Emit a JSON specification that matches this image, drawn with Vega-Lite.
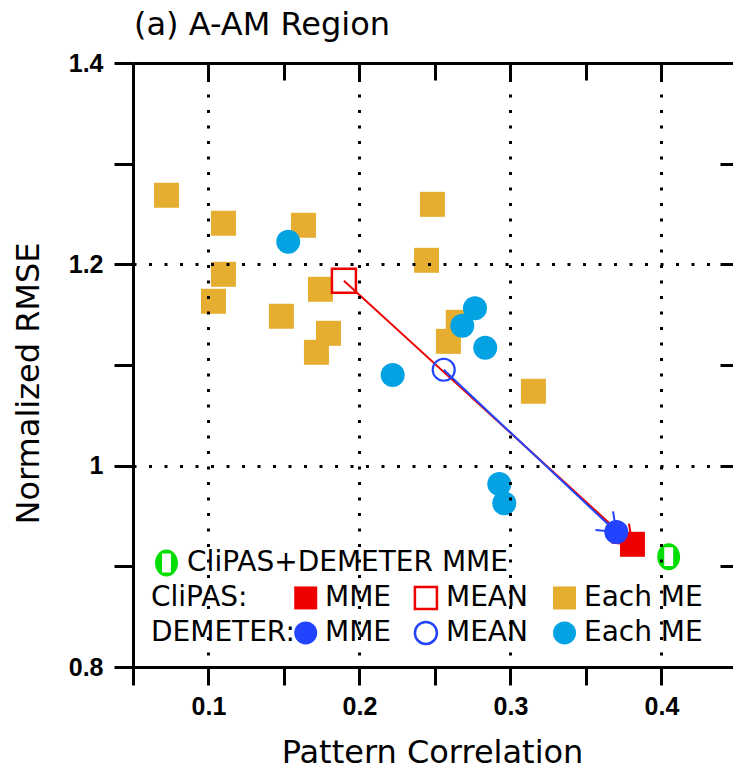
{
  "$schema": "https://vega.github.io/schema/vega-lite/v6.json",
  "width": 600,
  "height": 604,
  "autosize": {"type": "none"},
  "padding": {"left": 133, "top": 63, "right": 0, "bottom": 104},
  "background": "white",
  "title": {"text": "(a) A-AM Region", "anchor": "start", "frame": "group", "font": "DejaVu Sans", "fontSize": 32, "fontWeight": "normal", "color": "black", "offset": 9, "dx": 1},
  "config": {"view": {"stroke": null}},
  "datasets": {
    "points": [
      {"series": "CliPAS", "kind": "Each ME", "pc": 0.0722, "rmse": 1.2686},
      {"series": "CliPAS", "kind": "Each ME", "pc": 0.1099, "rmse": 1.2408},
      {"series": "CliPAS", "kind": "Each ME", "pc": 0.1629, "rmse": 1.2388},
      {"series": "CliPAS", "kind": "Each ME", "pc": 0.2483, "rmse": 1.2596},
      {"series": "CliPAS", "kind": "Each ME", "pc": 0.2444, "rmse": 1.204},
      {"series": "CliPAS", "kind": "Each ME", "pc": 0.1099, "rmse": 1.1901},
      {"series": "CliPAS", "kind": "Each ME", "pc": 0.1033, "rmse": 1.1633},
      {"series": "CliPAS", "kind": "Each ME", "pc": 0.1483, "rmse": 1.1484},
      {"series": "CliPAS", "kind": "Each ME", "pc": 0.1742, "rmse": 1.1752},
      {"series": "CliPAS", "kind": "Each ME", "pc": 0.1795, "rmse": 1.1315},
      {"series": "CliPAS", "kind": "Each ME", "pc": 0.1715, "rmse": 1.1126},
      {"series": "CliPAS", "kind": "Each ME", "pc": 0.2654, "rmse": 1.1424},
      {"series": "CliPAS", "kind": "Each ME", "pc": 0.2589, "rmse": 1.1235},
      {"series": "CliPAS", "kind": "Each ME", "pc": 0.3152, "rmse": 1.0739},
      {"series": "DEMETER", "kind": "Each ME", "pc": 0.1528, "rmse": 1.2225},
      {"series": "DEMETER", "kind": "Each ME", "pc": 0.2765, "rmse": 1.1563},
      {"series": "DEMETER", "kind": "Each ME", "pc": 0.2681, "rmse": 1.139},
      {"series": "DEMETER", "kind": "Each ME", "pc": 0.2833, "rmse": 1.1172},
      {"series": "DEMETER", "kind": "Each ME", "pc": 0.222, "rmse": 1.0901},
      {"series": "DEMETER", "kind": "Each ME", "pc": 0.2926, "rmse": 0.9818},
      {"series": "DEMETER", "kind": "Each ME", "pc": 0.2959, "rmse": 0.9626},
      {"series": "CliPAS", "kind": "MEAN", "pc": 0.1897, "rmse": 1.1836},
      {"series": "DEMETER", "kind": "MEAN", "pc": 0.2558, "rmse": 1.0953},
      {"series": "DEMETER", "kind": "MME", "pc": 0.3701, "rmse": 0.9341},
      {"series": "CliPAS", "kind": "MME", "pc": 0.3808, "rmse": 0.9219},
      {"series": "CliPAS+DEMETER", "kind": "MME", "pc": 0.4048, "rmse": 0.9096}
    ],
    "legendSymbols": [
      {"series": "CliPAS+DEMETER", "kind": "MME", "lx": 0.0722, "ly": 0.9033},
      {"series": "CliPAS", "kind": "MME", "lx": 0.1644, "ly": 0.8686},
      {"series": "CliPAS", "kind": "MEAN", "lx": 0.244, "ly": 0.8686},
      {"series": "CliPAS", "kind": "Each ME", "lx": 0.3358, "ly": 0.8686},
      {"series": "DEMETER", "kind": "MME", "lx": 0.1644, "ly": 0.8338},
      {"series": "DEMETER", "kind": "MEAN", "lx": 0.244, "ly": 0.8338},
      {"series": "DEMETER", "kind": "Each ME", "lx": 0.3358, "ly": 0.8338}
    ],
    "legendTexts": [
      {"label": "CliPAS+DEMETER MME", "lx": 0.0858, "ly": 0.9033},
      {"label": "CliPAS:", "lx": 0.0619, "ly": 0.8686},
      {"label": "MME", "lx": 0.1772, "ly": 0.8686},
      {"label": "MEAN", "lx": 0.2573, "ly": 0.8686},
      {"label": "Each ME", "lx": 0.3487, "ly": 0.8686},
      {"label": "DEMETER:", "lx": 0.0619, "ly": 0.8338},
      {"label": "MME", "lx": 0.1772, "ly": 0.8338},
      {"label": "MEAN", "lx": 0.2573, "ly": 0.8338},
      {"label": "Each ME", "lx": 0.3487, "ly": 0.8338}
    ]
  },
  "resolve": {"axis": {"x": "independent", "y": "independent"}},
  "layer": [
    {
      "data": {"name": "points"},
      "transform": [{"filter": "datum.series === 'CliPAS' && datum.kind === 'Each ME'"}],
      "mark": {"type": "point", "shape": "square", "filled": true, "color": "#E5AE30", "size": 625, "opacity": 1, "strokeWidth": 0},
      "encoding": {
        "x": {"field": "pc", "type": "quantitative", "scale": {"domain": [0.05, 0.4474], "nice": false, "zero": false},
          "axis": {"orient": "bottom", "values": [0.05, 0.1, 0.15, 0.2, 0.25, 0.3, 0.35, 0.4],
            "title": "Pattern Correlation", "titleFont": "DejaVu Sans", "titleFontSize": 32, "titleFontWeight": "normal", "titleColor": "black",
            "titleX": 299, "titleY": 95, "titleBaseline": "alphabetic", "titleAlign": "center",
            "labelExpr": "(round(datum.value*100) % 10 == 0) ? format(datum.value, '.1f') : ''",
            "labelFont": "Liberation Sans", "labelFontSize": 25, "labelFontWeight": "bold", "labelColor": "black", "labelPadding": 9, "labelFlush": false, "labelOverlap": false,
            "tickSize": 18, "tickWidth": 3, "tickColor": "black", "domainWidth": 3, "domainColor": "black",
            "grid": true, "gridColor": "black", "gridWidth": 3, "gridDash": [3, 12.5],
            "gridOpacity": {"condition": {"test": "round(datum.value*100) % 10 == 0", "value": 1}, "value": 0},
            "zindex": 1}},
        "y": {"field": "rmse", "type": "quantitative", "scale": {"domain": [0.8, 1.4], "nice": false, "zero": false},
          "axis": {"orient": "left", "values": [0.8, 0.9, 1.0, 1.1, 1.2, 1.3, 1.4],
            "title": "Normalized RMSE", "titleFont": "DejaVu Sans", "titleFontSize": 32, "titleFontWeight": "normal", "titleColor": "black",
            "titleX": -95, "titleY": 320, "titleAngle": 270, "titleBaseline": "alphabetic", "titleAlign": "center",
            "labelExpr": "(round(datum.value*10) % 2 == 0) ? format(datum.value, '~g') : ''",
            "labelFont": "Liberation Sans", "labelFontSize": 25, "labelFontWeight": "bold", "labelColor": "black", "labelPadding": 11, "labelFlush": false, "labelOverlap": false,
            "tickSize": 19, "tickWidth": 3, "tickColor": "black", "domainWidth": 3, "domainColor": "black",
            "grid": true, "gridColor": "black", "gridWidth": 3, "gridDash": [3, 12.5],
            "gridOpacity": {"condition": {"test": "abs(datum.value - 1) < 0.01 || abs(datum.value - 1.2) < 0.01", "value": 1}, "value": 0},
            "zindex": 1}}
      }
    },
    {
      "data": {"name": "points"},
      "transform": [{"filter": "datum.series === 'DEMETER' && datum.kind === 'Each ME'"}],
      "mark": {"type": "circle", "color": "#03A3E3", "size": 576, "opacity": 1},
      "encoding": {
        "x": {"field": "pc", "type": "quantitative", "scale": {"domain": [0.05, 0.4474], "nice": false, "zero": false},
          "axis": {"orient": "top", "values": [0.05, 0.1, 0.15, 0.2, 0.25, 0.3, 0.35, 0.4], "labels": false, "title": null,
            "tickSize": -17, "tickWidth": 3, "tickColor": "black", "domainWidth": 3, "domainColor": "black", "grid": false, "zindex": 1}},
        "y": {"field": "rmse", "type": "quantitative", "scale": {"domain": [0.8, 1.4], "nice": false, "zero": false},
          "axis": {"orient": "right", "values": [0.9, 1.0, 1.1, 1.2, 1.3], "labels": false, "title": null,
            "tickSize": -13, "tickWidth": 3, "tickColor": "black", "domain": false, "grid": false, "zindex": 1}}
      }
    },
    {
      "data": {"name": "points"},
      "transform": [{"filter": "datum.series === 'CliPAS' && (datum.kind === 'MEAN' || datum.kind === 'MME')"}],
      "mark": {"type": "line", "color": "#EE0000", "strokeWidth": 2},
      "encoding": {
        "x": {"field": "pc", "type": "quantitative", "scale": {"domain": [0.05, 0.4474], "nice": false, "zero": false}, "axis": null},
        "y": {"field": "rmse", "type": "quantitative", "scale": {"domain": [0.8, 1.4], "nice": false, "zero": false}, "axis": null}
      }
    },
    {
      "data": {"name": "points"},
      "transform": [{"filter": "datum.series === 'DEMETER' && (datum.kind === 'MEAN' || datum.kind === 'MME')"}],
      "mark": {"type": "line", "color": "#2244FF", "strokeWidth": 2},
      "encoding": {
        "x": {"field": "pc", "type": "quantitative", "scale": {"domain": [0.05, 0.4474], "nice": false, "zero": false}, "axis": null},
        "y": {"field": "rmse", "type": "quantitative", "scale": {"domain": [0.8, 1.4], "nice": false, "zero": false}, "axis": null}
      }
    },
    {
      "data": {"name": "points"},
      "transform": [{"filter": "datum.kind === 'MME' && datum.series !== 'CliPAS+DEMETER'"}],
      "mark": {"type": "point", "shape": "M-1,-0.78L0,0L-1,0.78", "filled": false, "size": 1089, "strokeWidth": 2, "opacity": 1},
      "encoding": {
        "x": {"field": "pc", "type": "quantitative", "scale": {"domain": [0.05, 0.4474], "nice": false, "zero": false}, "axis": null},
        "y": {"field": "rmse", "type": "quantitative", "scale": {"domain": [0.8, 1.4], "nice": false, "zero": false}, "axis": null},
        "color": {"condition": {"test": "datum.series === 'CliPAS'", "value": "#EE0000"}, "value": "#2244FF"},
        "angle": {"condition": {"test": "datum.series === 'CliPAS'", "value": 42.4}, "value": 43.2}
      }
    },
    {
      "data": {"name": "points"},
      "transform": [{"filter": "datum.series === 'CliPAS' && datum.kind === 'MEAN'"}],
      "mark": {"type": "point", "shape": "square", "filled": false, "color": "#EE0000", "size": 576, "strokeWidth": 2.5, "opacity": 1},
      "encoding": {
        "x": {"field": "pc", "type": "quantitative", "scale": {"domain": [0.05, 0.4474], "nice": false, "zero": false}, "axis": null},
        "y": {"field": "rmse", "type": "quantitative", "scale": {"domain": [0.8, 1.4], "nice": false, "zero": false}, "axis": null}
      }
    },
    {
      "data": {"name": "points"},
      "transform": [{"filter": "datum.series === 'DEMETER' && datum.kind === 'MEAN'"}],
      "mark": {"type": "point", "shape": "circle", "filled": false, "color": "#2244FF", "size": 484, "strokeWidth": 2.2, "opacity": 1},
      "encoding": {
        "x": {"field": "pc", "type": "quantitative", "scale": {"domain": [0.05, 0.4474], "nice": false, "zero": false}, "axis": null},
        "y": {"field": "rmse", "type": "quantitative", "scale": {"domain": [0.8, 1.4], "nice": false, "zero": false}, "axis": null}
      }
    },
    {
      "data": {"name": "points"},
      "transform": [{"filter": "datum.series === 'CliPAS' && datum.kind === 'MME'"}],
      "mark": {"type": "point", "shape": "square", "filled": true, "color": "#EE0000", "size": 625, "strokeWidth": 0, "opacity": 1},
      "encoding": {
        "x": {"field": "pc", "type": "quantitative", "scale": {"domain": [0.05, 0.4474], "nice": false, "zero": false}, "axis": null},
        "y": {"field": "rmse", "type": "quantitative", "scale": {"domain": [0.8, 1.4], "nice": false, "zero": false}, "axis": null}
      }
    },
    {
      "data": {"name": "points"},
      "transform": [{"filter": "datum.series === 'DEMETER' && datum.kind === 'MME'"}],
      "mark": {"type": "circle", "color": "#2244FF", "size": 576, "opacity": 1},
      "encoding": {
        "x": {"field": "pc", "type": "quantitative", "scale": {"domain": [0.05, 0.4474], "nice": false, "zero": false}, "axis": null},
        "y": {"field": "rmse", "type": "quantitative", "scale": {"domain": [0.8, 1.4], "nice": false, "zero": false}, "axis": null}
      }
    },
    {
      "data": {"name": "points"},
      "transform": [{"filter": "datum.series === 'CliPAS+DEMETER'"}],
      "mark": {"type": "point", "shape": "M0,-1A0.85,1 0 1,1 0,1A0.85,1 0 1,1 0,-1ZM-0.33,-0.7L-0.33,0.7L0.33,0.7L0.33,-0.7Z", "filled": true, "color": "#00DD00", "size": 729, "strokeWidth": 0, "opacity": 1},
      "encoding": {
        "x": {"field": "pc", "type": "quantitative", "scale": {"domain": [0.05, 0.4474], "nice": false, "zero": false}, "axis": null},
        "y": {"field": "rmse", "type": "quantitative", "scale": {"domain": [0.8, 1.4], "nice": false, "zero": false}, "axis": null}
      }
    },
    {
      "data": {"name": "legendSymbols"},
      "transform": [{"filter": "datum.series === 'CliPAS+DEMETER'"}],
      "mark": {"type": "point", "shape": "M0,-1A0.85,1 0 1,1 0,1A0.85,1 0 1,1 0,-1ZM-0.33,-0.7L-0.33,0.7L0.33,0.7L0.33,-0.7Z", "filled": true, "color": "#00DD00", "size": 729, "strokeWidth": 0, "opacity": 1},
      "encoding": {
        "x": {"field": "lx", "type": "quantitative", "scale": {"domain": [0.05, 0.4474], "nice": false, "zero": false}, "axis": null},
        "y": {"field": "ly", "type": "quantitative", "scale": {"domain": [0.8, 1.4], "nice": false, "zero": false}, "axis": null}
      }
    },
    {
      "data": {"name": "legendSymbols"},
      "transform": [{"filter": "datum.kind !== 'MEAN' && datum.series !== 'CliPAS+DEMETER'"}],
      "mark": {"type": "point", "filled": true, "size": 529, "strokeWidth": 0, "opacity": 1},
      "encoding": {
        "x": {"field": "lx", "type": "quantitative", "scale": {"domain": [0.05, 0.4474], "nice": false, "zero": false}, "axis": null},
        "y": {"field": "ly", "type": "quantitative", "scale": {"domain": [0.8, 1.4], "nice": false, "zero": false}, "axis": null},
        "shape": {"condition": {"test": "datum.series === 'CliPAS'", "value": "square"}, "value": "circle"},
        "color": {"condition": [
          {"test": "datum.series === 'CliPAS' && datum.kind === 'MME'", "value": "#EE0000"},
          {"test": "datum.series === 'CliPAS' && datum.kind === 'Each ME'", "value": "#E5AE30"},
          {"test": "datum.series === 'DEMETER' && datum.kind === 'MME'", "value": "#2244FF"}
        ], "value": "#03A3E3"}
      }
    },
    {
      "data": {"name": "legendSymbols"},
      "transform": [{"filter": "datum.kind === 'MEAN'"}],
      "mark": {"type": "point", "filled": false, "size": 484, "strokeWidth": 2.5, "opacity": 1},
      "encoding": {
        "x": {"field": "lx", "type": "quantitative", "scale": {"domain": [0.05, 0.4474], "nice": false, "zero": false}, "axis": null},
        "y": {"field": "ly", "type": "quantitative", "scale": {"domain": [0.8, 1.4], "nice": false, "zero": false}, "axis": null},
        "shape": {"condition": {"test": "datum.series === 'CliPAS'", "value": "square"}, "value": "circle"},
        "color": {"condition": {"test": "datum.series === 'CliPAS'", "value": "#EE0000"}, "value": "#2244FF"}
      }
    },
    {
      "data": {"name": "legendTexts"},
      "mark": {"type": "text", "align": "left", "baseline": "middle", "font": "DejaVu Sans", "fontSize": 28, "color": "black"},
      "encoding": {
        "x": {"field": "lx", "type": "quantitative", "scale": {"domain": [0.05, 0.4474], "nice": false, "zero": false}, "axis": null},
        "y": {"field": "ly", "type": "quantitative", "scale": {"domain": [0.8, 1.4], "nice": false, "zero": false}, "axis": null},
        "text": {"field": "label"}
      }
    }
  ]
}
